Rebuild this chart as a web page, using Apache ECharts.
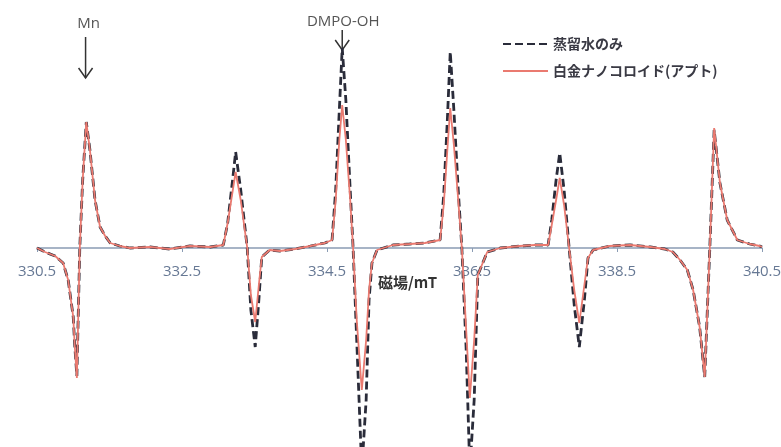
<!DOCTYPE html>
<html>
<head>
<meta charset="utf-8">
<script src="https://cdn.jsdelivr.net/npm/echarts@6/dist/echarts.min.js"></script>
<style>
  html, body { margin: 0; padding: 0; background: #fff; }
  #chart { width: 781px; height: 447px; }
</style>
</head>
<body>
<div id="chart"></div>
<script>
// 磁場 (mT)
const field = [
  330.50, 330.61, 330.75, 330.86, 330.93, 331.00, 331.02, 331.05, 331.09, 331.13,
  331.18, 331.23, 331.30, 331.37, 331.44, 331.51, 331.64, 331.78, 332.06, 332.33,
  332.61, 332.89, 333.07, 333.13, 333.19, 333.24, 333.31, 333.40, 333.45, 333.51,
  333.56, 333.60, 333.71, 333.85, 334.06, 334.27, 334.47, 334.57, 334.62, 334.67,
  334.71, 334.76, 334.82, 334.86, 334.91, 334.98, 335.04, 335.08, 335.12, 335.19,
  335.41, 335.64, 335.85, 336.06, 336.11, 336.16, 336.20, 336.25, 336.31, 336.36,
  336.42, 336.47, 336.53, 336.58, 336.71, 336.89, 337.16, 337.37, 337.55, 337.60,
  337.66, 337.71, 337.77, 337.84, 337.91, 337.98, 338.05, 338.10, 338.17, 338.40,
  338.68, 338.96, 339.16, 339.27, 339.37, 339.47, 339.55, 339.64, 339.71, 339.78,
  339.84, 339.92, 340.02, 340.16, 340.33, 340.47, 340.50
];

// 蒸留水のみ
const waterOnly = [
  0, -4, -8, -15, -32, -69, -97, -128, 0, 68,
  126, 98, 48, 21, 12, 5, 2, 0, 1, -1,
  2, 1, 3, 25, 63, 96, 58, 0, -62, -99,
  -52, -9, -2, -3, -1, 2, 5, 8, 58, 138,
  200, 148, 58, 0, -92, -222, -152, -52, -15, -2,
  3, 4, 5, 8, 53, 128, 196, 138, 58, 0,
  -102, -222, -152, -27, -4, 0, 2, 3, 3, 28,
  68, 95, 58, 0, -57, -99, -52, -10, -2, 2,
  3, 1, -1, -4, -12, -22, -42, -79, -129, 0,
  118, 65, 28, 8, 4, 2, 1
];

// 白金ナノコロイド(アプト)
const platinum = [
  0, -4, -8, -15, -32, -69, -97, -130, 0, 68,
  126, 98, 48, 21, 12, 5, 2, 0, 1, -1,
  2, 1, 3, 25, 53, 76, 48, 0, -47, -74,
  -37, -9, -2, -3, -1, 2, 5, 8, 48, 108,
  143, 108, 48, 0, -72, -142, -92, -42, -15, -2,
  3, 4, 5, 8, 43, 98, 140, 103, 48, 0,
  -82, -150, -92, -27, -4, 0, 2, 3, 3, 23,
  48, 70, 43, 0, -42, -75, -37, -10, -2, 2,
  3, 1, -1, -4, -12, -22, -42, -79, -129, 0,
  120, 65, 28, 8, 4, 2, 1
];

const tickLabels = [330.5, 332.5, 334.5, 336.5, 338.5, 340.5];
const seriesNames = ["蒸留水のみ", "白金ナノコロイド(アプト)"];

const pair = (vals) => field.map((f, i) => [f, vals[i]]);

const chart = echarts.init(document.getElementById("chart"));

// x軸はグリッド下端（=ゼロ位置）に置き、負側はグリッド外に描く
chart.setOption({
  backgroundColor: "#fff",
  animation: false,
  grid: { left: 37, right: 19, top: 0, bottom: 199, containLabel: false, outerBoundsMode: "none" },
  legend: {
    orient: "vertical",
    left: 497,
    top: 32,
    itemWidth: 45,
    itemHeight: 14,
    itemGap: 13,
    itemStyle: { opacity: 0 },
    textStyle: {
      fontFamily: "Noto Sans CJK JP",
      fontSize: 14,
      fontWeight: "bold",
      color: "#3a3a44",
    },
    data: seriesNames,
  },
  xAxis: {
    type: "value",
    min: 330.5,
    max: 340.5,
    axisLine: { onZero: false, lineStyle: { color: "#8a9cb4", width: 1.5 } },
    axisTick: { show: true, length: 4, customValues: tickLabels, lineStyle: { color: "#8a9cb4" } },
    splitLine: { show: false },
    axisLabel: {
      customValues: tickLabels,
      margin: 16,
      color: "#667894",
      fontSize: 15,
      fontFamily: "Open Sans",
      formatter: (v) => v.toFixed(1),
    },
  },
  yAxis: {
    type: "value",
    min: 0,
    max: 248,
    show: false,
  },
  series: [
    {
      name: seriesNames[0],
      type: "line",
      data: pair(waterOnly),
      symbol: "none",
      clip: false,
      lineStyle: { color: "#2a2c3a", width: 2.8, type: [8, 4] },
      itemStyle: { color: "#2a2c3a" },
    },
    {
      name: seriesNames[1],
      type: "line",
      data: pair(platinum),
      symbol: "none",
      clip: false,
      lineStyle: { color: "#ea7a70", width: 1.8 },
      itemStyle: { color: "#ea7a70" },
    },
  ],
});

// 注記（Mn / DMPO-OH の矢印）と軸名
const mnX = chart.convertToPixel({ xAxisIndex: 0 }, 331.17);
const dmpoX = chart.convertToPixel({ xAxisIndex: 0 }, 334.71);

function arrow(x, y1, y2) {
  return [
    { type: "line", shape: { x1: x, y1: y1, x2: x, y2: y2 }, style: { stroke: "#333", lineWidth: 1.5 } },
    { type: "polyline", shape: { points: [[x - 7, y2 - 10], [x, y2], [x + 7, y2 - 10]] }, style: { stroke: "#333", lineWidth: 1.5, fill: null } },
  ];
}

chart.setOption({
  graphic: [
    { type: "text", x: mnX + 3, y: 24, style: { text: "Mn", font: "15px 'Open Sans'", fill: "#555", align: "center", verticalAlign: "middle" } },
    ...arrow(mnX, 37, 78),
    { type: "text", x: dmpoX + 1, y: 22, style: { text: "DMPO-OH", font: "15px 'Open Sans'", fill: "#555", align: "center", verticalAlign: "middle" } },
    ...arrow(dmpoX, 30, 50),
    { type: "text", x: 378, y: 282, style: { text: "磁場/mT", font: "bold 15px 'Noto Sans CJK JP'", fill: "#333", verticalAlign: "middle" } },
  ],
});

window.addEventListener("resize", () => chart.resize());
</script>
</body>
</html>
